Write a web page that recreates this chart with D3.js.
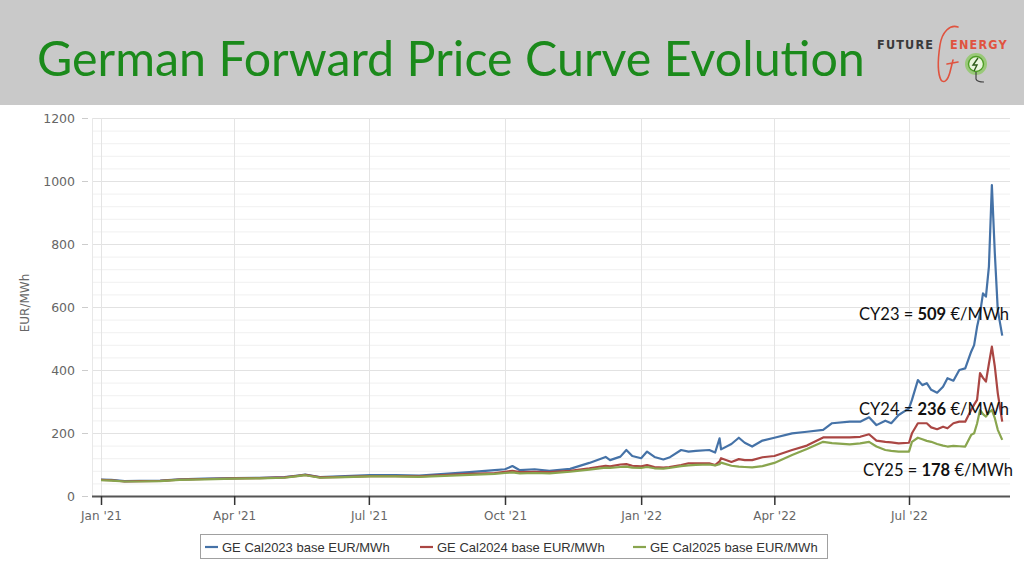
<!DOCTYPE html>
<html>
<head>
<meta charset="utf-8">
<script src="https://cdn.jsdelivr.net/npm/d3@7/dist/d3.min.js"></script>
<style>
  html, body { margin: 0; padding: 0; background: #ffffff; }
  svg { display: block; }
</style>
</head>
<body>
<svg id="chart" width="1024" height="576"></svg>
<script>
// ---------------- DATA ----------------
const titleText = "German Forward Price Curve Evolution";
const yAxisTitle = "EUR/MWh";
const seriesNames = ["GE Cal2023 base EUR/MWh", "GE Cal2024 base EUR/MWh", "GE Cal2025 base EUR/MWh"];
const seriesColors = ["#4572A7", "#AA4643", "#89A54E"];
const yTicks = [0, 200, 400, 600, 800, 1000, 1200];

const dates = [
  "2021-01-01","2021-01-08","2021-01-17","2021-01-27","2021-02-10","2021-02-23","2021-03-12",
  "2021-04-01","2021-04-18","2021-05-05","2021-05-14","2021-05-19","2021-05-29","2021-06-15",
  "2021-07-02","2021-07-19","2021-08-04","2021-08-21","2021-09-07","2021-09-24","2021-10-01",
  "2021-10-06","2021-10-11","2021-10-21","2021-10-31","2021-11-14","2021-11-27","2021-12-08",
  "2021-12-11","2021-12-18","2021-12-22","2021-12-26","2022-01-01","2022-01-05","2022-01-10",
  "2022-01-16","2022-01-20","2022-01-28","2022-02-02","2022-02-07","2022-02-16","2022-02-20",
  "2022-02-23","2022-02-24","2022-03-03","2022-03-08","2022-03-12","2022-03-17","2022-03-24",
  "2022-04-01","2022-04-13","2022-04-23","2022-05-04","2022-05-10","2022-05-22","2022-05-29",
  "2022-06-04","2022-06-09","2022-06-15","2022-06-19","2022-06-24","2022-07-01","2022-07-03",
  "2022-07-07","2022-07-10","2022-07-13","2022-07-16","2022-07-20","2022-07-24","2022-07-27",
  "2022-07-31","2022-08-04","2022-08-08","2022-08-12","2022-08-14","2022-08-16","2022-08-18",
  "2022-08-20","2022-08-22","2022-08-24","2022-08-26","2022-08-28","2022-08-30","2022-09-02"
];

const cal2023 = [
  52,51,47,48,49,53,55,
  57,58,60,65,68,60,63,
  66,66,65,70,76,82,85,
  95,82,85,80,86,105,124,
  114,125,146,127,120,141,124,
  116,122,146,141,143,146,138,
  183,148,165,185,169,157,176,
  185,199,204,210,231,236,236,
  250,225,239,231,257,278,305,
  368,352,358,337,328,347,374,
  366,400,405,458,479,537,580,
  643,633,728,987,770,590,509
];

const cal2024 = [
  51,50,46,47,48,52,54,
  56,57,59,64,67,59,61,
  63,63,62,66,70,73,77,
  80,76,77,76,80,88,96,
  94,100,101,96,94,98,92,
  90,92,98,104,104,104,98,
  110,120,108,117,114,114,123,
  127,146,160,186,186,186,188,
  196,176,172,170,167,169,199,
  231,231,231,218,212,220,215,
  231,236,236,273,290,305,390,
  375,363,420,474,411,326,236
];

const cal2025 = [
  50,49,46,46,47,51,53,
  55,56,58,63,66,58,60,
  62,62,61,64,67,70,73,
  75,72,73,72,77,84,90,
  89,92,93,90,89,92,88,
  87,89,95,97,99,100,97,
  101,106,96,93,92,91,95,
  105,130,149,172,168,164,167,
  172,157,146,143,141,141,172,
  185,180,175,172,165,160,157,
  159,158,157,194,199,230,273,
  260,252,265,273,247,210,178
];

const annotations = [
  { label: "CY23 = ", value: "509", unit: " €/MWh" },
  { label: "CY24 = ", value: "236", unit: " €/MWh" },
  { label: "CY25 = ", value: "178", unit: " €/MWh" }
];

// ---------------- LAYOUT ----------------
const svg = d3.select("#chart");
const W = 1024, H = 576;
const plotLeft = 92, plotRight = 1010, plotTop = 118, plotBottom = 496;

svg.append("rect").attr("x", 0).attr("y", 0).attr("width", W).attr("height", H).attr("fill", "#ffffff");

// Header band
svg.append("rect").attr("x", 0).attr("y", 0).attr("width", W).attr("height", 105).attr("fill", "#c9c9c9");

const title = svg.append("text")
  .attr("x", 37).attr("y", 76)
  .attr("font-family", "Lato, 'Open Sans', sans-serif")
  .attr("font-size", 48)
  .attr("fill", "#1b8a1b")
  .text(titleText);
const tw = title.node().getComputedTextLength();
title.attr("font-size", 48 * 828 / tw);

// Logo
const logo = svg.append("g");
logo.append("text").attr("x", 877).attr("y", 49)
  .attr("font-family", "'DejaVu Sans Condensed', 'DejaVu Sans', sans-serif").attr("font-weight", "bold")
  .attr("font-size", 12.5).attr("letter-spacing", 1.2).attr("fill", "#3a3a3a").text("FUTURE");
logo.append("text").attr("x", 950).attr("y", 49)
  .attr("font-family", "'DejaVu Sans Condensed', 'DejaVu Sans', sans-serif").attr("font-weight", "bold")
  .attr("font-size", 12.5).attr("letter-spacing", 1.2).attr("fill", "#e0533f").text("ENERGY");
logo.append("path")
  .attr("d", "M958,27 C950,24 942,32 940,45 C938,58 937,72 941,80 C944,84 948,80 950,72 L953,60 M947,64 L958,62")
  .attr("fill", "none").attr("stroke", "#e0533f").attr("stroke-width", 1.6).attr("stroke-linecap", "round");
logo.append("circle").attr("cx", 976).attr("cy", 64).attr("r", 9.5)
  .attr("fill", "#c9c9c9").attr("stroke", "#7ac943").attr("stroke-width", 3).attr("stroke-opacity", 0.6);
logo.append("circle").attr("cx", 976).attr("cy", 64).attr("r", 7.5)
  .attr("fill", "#e9f4dc").attr("stroke", "#4d9e24").attr("stroke-width", 1.4);
logo.append("path").attr("d", "M978,58 L973,65 L977,65 L974,71")
  .attr("fill", "none").attr("stroke", "#2e5a1a").attr("stroke-width", 1.4);
logo.append("path").attr("d", "M976,72 L976,79 Q977,82 984,82")
  .attr("fill", "none").attr("stroke", "#444").attr("stroke-width", 1.2);

// ---------------- SCALES ----------------
const parse = d3.utcParse("%Y-%m-%d");
const dateObjs = dates.map(parse);
const xBase = d3.scaleUtc().domain([parse("2021-01-01"), parse("2022-07-01")]).range([101, 909]);
const x = d3.scaleUtc().domain([xBase.invert(plotLeft), xBase.invert(plotRight)]).range([plotLeft, plotRight]);
const y = d3.scaleLinear().domain([0, 1200]).range([plotBottom, plotTop]);

// Minor horizontal grid (every 40)
const minorTicks = d3.range(0, 1201, 40).filter(v => v % 200 !== 0);
svg.append("g").selectAll("line").data(minorTicks).join("line")
  .attr("x1", plotLeft).attr("x2", plotRight)
  .attr("y1", d => y(d) + 0.5).attr("y2", d => y(d) + 0.5)
  .attr("stroke", "#f0f0f0").attr("stroke-width", 1);

// Major horizontal grid
svg.append("g").selectAll("line").data(yTicks).join("line")
  .attr("x1", plotLeft).attr("x2", plotRight)
  .attr("y1", d => y(d) + 0.5).attr("y2", d => y(d) + 0.5)
  .attr("stroke", "#e2e2e2").attr("stroke-width", 1);

// Vertical grid at quarter ticks
const qTicks = x.ticks(d3.utcMonth.every(3));
svg.append("g").selectAll("line").data(qTicks).join("line")
  .attr("x1", d => Math.round(x(d)) + 0.5).attr("x2", d => Math.round(x(d)) + 0.5)
  .attr("y1", plotTop).attr("y2", plotBottom)
  .attr("stroke", "#e4e4e4").attr("stroke-width", 1);

svg.append("line").attr("x1", plotLeft + 0.5).attr("x2", plotLeft + 0.5)
  .attr("y1", plotTop).attr("y2", plotBottom).attr("stroke", "#e8e8e8");

// Y axis
const yAxis = d3.axisLeft(y).tickValues(yTicks).tickSize(6).tickPadding(7).tickFormat(d3.format("d"));
const gy = svg.append("g").attr("transform", `translate(${plotLeft - 4},0)`).call(yAxis);
gy.select(".domain").remove();
gy.selectAll(".tick line").attr("stroke", "#cccccc");
gy.selectAll(".tick text").attr("font-family", "'DejaVu Sans', sans-serif").attr("font-size", 12.5).attr("fill", "#666666");

svg.append("text")
  .attr("transform", `translate(29,303) rotate(-90)`)
  .attr("text-anchor", "middle")
  .attr("font-family", "'DejaVu Sans', sans-serif").attr("font-size", 12).attr("fill", "#666666")
  .text(yAxisTitle);

// ---------------- LINES ----------------
const seriesData = [cal2023, cal2024, cal2025];
const line = d3.line().x((d, i) => x(dateObjs[i])).y(d => y(d)).curve(d3.curveLinear);
svg.append("g").selectAll("path").data(seriesData).join("path")
  .attr("d", d => line(d))
  .attr("fill", "none")
  .attr("stroke", (d, i) => seriesColors[i])
  .attr("stroke-width", 2.2)
  .attr("stroke-linejoin", "round");

// X axis
svg.append("line").attr("x1", plotLeft).attr("x2", plotRight)
  .attr("y1", plotBottom + 0.5).attr("y2", plotBottom + 0.5)
  .attr("stroke", "#555555").attr("stroke-width", 2);
const xAxis = d3.axisBottom(x).tickValues(qTicks).tickSize(9).tickPadding(6)
  .tickFormat(d3.utcFormat("%b '%y"));
const gx = svg.append("g").attr("transform", `translate(0,${plotBottom})`).call(xAxis);
gx.select(".domain").remove();
gx.selectAll(".tick line").attr("stroke", "#333333").attr("stroke-width", 1.5);
gx.selectAll(".tick text").attr("font-family", "'DejaVu Sans', sans-serif").attr("font-size", 12).attr("fill", "#666666");

// ---------------- ANNOTATIONS ----------------
const annPos = [{ x: 859, y: 320 }, { x: 859, y: 415 }, { x: 863, y: 476 }];
annotations.forEach((a, i) => {
  const t = svg.append("text").attr("x", annPos[i].x).attr("y", annPos[i].y)
    .attr("font-family", "Lato, 'Open Sans', sans-serif").attr("font-size", 16.5).attr("fill", "#111111");
  t.append("tspan").text(a.label);
  t.append("tspan").attr("font-weight", "bold").text(a.value);
  t.append("tspan").text(a.unit);
});

// ---------------- LEGEND ----------------
const lg = svg.append("g");
lg.append("rect").attr("x", 200.5).attr("y", 534.5).attr("width", 627).attr("height", 24)
  .attr("fill", "#ffffff").attr("stroke", "#a0a0a0").attr("stroke-width", 1);
const legX = [205, 420, 633];
seriesNames.forEach((n, i) => {
  lg.append("line").attr("x1", legX[i]).attr("x2", legX[i] + 13)
    .attr("y1", 547).attr("y2", 547).attr("stroke", seriesColors[i]).attr("stroke-width", 2.2);
  lg.append("text").attr("x", legX[i] + 17).attr("y", 551.5)
    .attr("font-family", "'Liberation Sans', Arial, sans-serif").attr("font-size", 13).attr("fill", "#333333")
    .text(n);
});
</script>
</body>
</html>
